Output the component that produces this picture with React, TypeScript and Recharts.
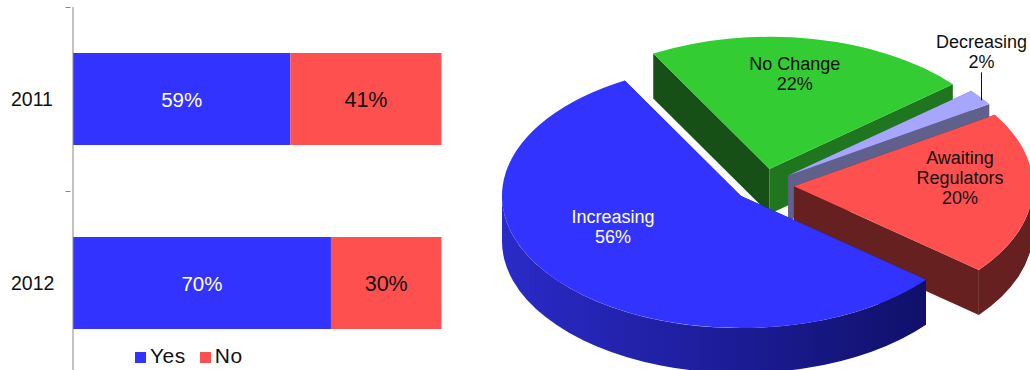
import { BarChart, Bar, XAxis, YAxis, Legend, LabelList, PieChart, Pie } from "recharts";

const years = ["2011", "2012"];
const yesShare = [59, 70];
const noShare = [41, 30];

const outlookNames = ["No Change", "Decreasing", "Awaiting Regulators", "Increasing"];
const outlookShare = [22, 2, 20, 56];

const barRows = years.map((year, i) => ({ year, yes: yesShare[i], no: noShare[i] }));
const pieRows = outlookNames.map((name, i) => ({ name, value: outlookShare[i] }));

const FONT = "'Liberation Sans', Arial, sans-serif";
const AXIS_GREY = "#868686";
const BAR_TOP = 7;
const BAND = 184;
const LEGEND_H = 26;

// 3D pie look: flattened circle, pulled-out slices and a wall below each one
const SQUASH = 0.553;
const EXPLODE = 30;
const DEPTH = 45;

const topColor: Record<string, string> = {
  "No Change": "#33cc33",
  Decreasing: "#a6a6ff",
  "Awaiting Regulators": "#ff5050",
  Increasing: "#3333ff",
};
const rimColor: Record<string, string> = {
  "No Change": "#206f20",
  Decreasing: "#60608c",
  "Awaiting Regulators": "#662020",
  Increasing: "url(#blueWall)",
};
const startWallColor: Record<string, string> = {
  "No Change": "#165016",
  Decreasing: "#60608c",
  "Awaiting Regulators": "#662020",
  Increasing: "#10106a",
};
const endWallColor: Record<string, string> = {
  "No Change": "#20761f",
  Decreasing: "#60608c",
  "Awaiting Regulators": "#662020",
  Increasing: "#10106a",
};

const labelLines: Record<string, string[]> = {
  "No Change": ["No Change", "22%"],
  Decreasing: ["Decreasing", "2%"],
  "Awaiting Regulators": ["Awaiting", "Regulators", "20%"],
  Increasing: ["Increasing", "56%"],
};
// label anchor relative to the pie centre: x, first baseline
const labelOffset: Record<string, [number, number]> = {
  "No Change": [30.8, -115.3],
  Decreasing: [217.5, -137],
  "Awaiting Regulators": [196, -21.3],
  Increasing: [-151, 38],
};

const RAD = Math.PI / 180;

function YearTick({ x, y, payload }: any) {
  const tickY = Math.round(y - BAND / 2) + 0.5;
  return (
    <g>
      <line x1={x + 0.5} x2={x + 5.5} y1={tickY} y2={tickY} stroke={AXIS_GREY} />
      <text x={11} y={y + 6.5} fontFamily={FONT} fontSize={19.5} fill="#111">
        {payload.value}
      </text>
    </g>
  );
}

function BarValue({ x, y, width, height, value, light }: any) {
  return (
    <text
      x={x + width / 2}
      y={y + height / 2 + 7.5}
      textAnchor="middle"
      fontFamily={FONT}
      fontSize={light ? 20.5 : 21.5}
      fill={light ? "#fff" : "#111"}
    >
      {value}%
    </text>
  );
}

function Slice3D(props: any) {
  const { cx, cy, outerRadius, startAngle, endAngle, midAngle, name } = props;
  const rx = outerRadius;
  const ry = outerRadius * SQUASH;
  const mid = midAngle * RAD;
  const ox = cx + Math.cos(mid) * EXPLODE;
  const oy = cy - Math.sin(mid) * EXPLODE * SQUASH;
  const pt = (deg: number) => [ox + Math.cos(deg * RAD) * rx, oy - Math.sin(deg * RAD) * ry];

  const [sx, sy] = pt(startAngle);
  const [ex, ey] = pt(endAngle);
  const large = Math.abs(endAngle - startAngle) > 180 ? 1 : 0;
  const top = `M${ox},${oy} L${sx},${sy} A${rx},${ry} 0 ${large} 1 ${ex},${ey} Z`;

  // outer rim only shows on the front half of the ellipse
  const frontFrom = Math.min(startAngle, 0);
  const frontTo = Math.max(endAngle, -180);
  let rim = "";
  if (frontFrom > frontTo) {
    const [ax, ay] = pt(frontFrom);
    const [bx, by] = pt(frontTo);
    rim = `M${ax},${ay} A${rx},${ry} 0 0 1 ${bx},${by} L${bx},${by + DEPTH} A${rx},${ry} 0 0 0 ${ax},${ay + DEPTH} Z`;
  }
  const wall = (a: number[]) =>
    `M${ox},${oy} L${a[0]},${a[1]} L${a[0]},${a[1] + DEPTH} L${ox},${oy + DEPTH} Z`;

  return (
    <g>
      <path d={wall([sx, sy])} fill={startWallColor[name]} />
      <path d={wall([ex, ey])} fill={endWallColor[name]} />
      {rim && <path d={rim} fill={rimColor[name]} />}
      <path d={top} fill={topColor[name]} />
    </g>
  );
}

function SliceLabel({ cx, cy, name }: any) {
  const [dx, dy] = labelOffset[name];
  const lines = labelLines[name];
  const light = name === "Increasing";
  const lx = cx + dx;
  return (
    <g>
      {lines.map((line, i) => (
        <text
          key={line}
          x={lx}
          y={cy + dy + i * 19.8}
          textAnchor="middle"
          fontFamily={FONT}
          fontSize={18}
          fill={light ? "#fff" : "#111"}
        >
          {line}
        </text>
      ))}
      {name === "Decreasing" && (
        <line x1={lx} x2={lx} y1={cy + dy + 24} y2={cy + dy + 52} stroke="#111" />
      )}
    </g>
  );
}

export default function App() {
  return (
    <div style={{ position: "absolute", left: 0, top: 0, width: 1030, height: 370, overflow: "hidden", background: "#fff" }}>
      <div style={{ position: "absolute", left: 0, top: 0 }}>
        <BarChart
          width={450}
          height={BAR_TOP + BAND * 2 + LEGEND_H}
          layout="vertical"
          data={barRows}
          barCategoryGap="25%"
          margin={{ top: BAR_TOP, right: 8.5, bottom: 0, left: 0 }}
        >
          <XAxis type="number" domain={[0, 100]} hide />
          <YAxis
            type="category"
            dataKey="year"
            width={73}
            tickLine={false}
            tick={<YearTick />}
            axisLine={{ stroke: AXIS_GREY }}
            interval={0}
          />
          <Bar dataKey="yes" name="Yes" stackId="a" fill="#3333ff" isAnimationActive={false}>
            <LabelList dataKey="yes" content={(p: any) => <BarValue {...p} light />} />
          </Bar>
          <Bar dataKey="no" name="No" stackId="a" fill="#ff5050" isAnimationActive={false}>
            <LabelList dataKey="no" content={(p: any) => <BarValue {...p} />} />
          </Bar>
          <Legend
            iconType="square"
            iconSize={11}
            itemSorter={null}
            layout="horizontal"
            align="left"
            height={LEGEND_H}
            wrapperStyle={{ position: "absolute", left: 135, top: 343, width: 130, fontFamily: FONT, fontSize: 21, lineHeight: "26px" }}
            formatter={(value: string) => (
              <span style={{ color: "#111", letterSpacing: 0.5, marginRight: 4 }}>{value}</span>
            )}
          />
        </BarChart>
      </div>
      <div style={{ position: "absolute", left: 490, top: 0 }}>
        <PieChart width={540} height={370} margin={{ top: 0, right: 0, bottom: 0, left: 0 }}>
          <defs>
            <linearGradient id="blueWall" x1="0" y1="0" x2="1" y2="0">
              <stop offset="0%" stopColor="#2a2ac8" />
              <stop offset="55%" stopColor="#1c1c96" />
              <stop offset="100%" stopColor="#10106a" />
            </linearGradient>
          </defs>
          <Pie
            data={pieRows}
            dataKey="value"
            nameKey="name"
            cx={274}
            cy={185.3}
            outerRadius={239}
            startAngle={119.1}
            endAngle={-240.9}
            paddingAngle={0}
            stroke="none"
            labelLine={false}
            label={<SliceLabel />}
            shape={<Slice3D />}
            isAnimationActive={false}
          />
        </PieChart>
      </div>
    </div>
  );
}
